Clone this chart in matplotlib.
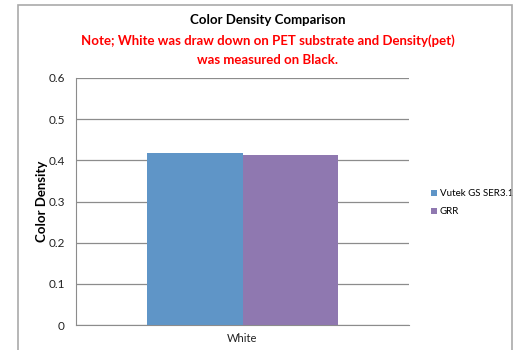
import matplotlib
matplotlib.use("Agg")
import matplotlib.pyplot as plt
from matplotlib.patches import Rectangle

# data
categories = ["White"]
series_names = ["Vutek GS SER3.1", "GRR"]
series_values = [[0.417], [0.414]]
colors = ["#5F95C7", "#8F78B0"]

plt.rcParams['font.family'] = ['Lato', 'DejaVu Sans']

fig = plt.figure(figsize=(5.2, 3.5), dpi=100)

# outer chart border
fig.patches.append(Rectangle((18 / 520, -0.1), 494 / 520, 1.1 - 5 / 350,
                             transform=fig.transFigure, fill=False,
                             edgecolor="#AAAAAA", linewidth=1.2))

ax = fig.add_axes([76 / 520, 25 / 350, 333 / 520, 247 / 350])

w = 0.287
offsets = [-w / 2, w / 2]
for i in range(len(series_names)):
    ax.bar([0 + offsets[i]], series_values[i], width=w, color=colors[i],
           label=series_names[i], zorder=3)

ax.set_xlim(-0.5, 0.5)
ax.set_ylim(0, 0.6)
ax.set_yticks([0, 0.1, 0.2, 0.3, 0.4, 0.5, 0.6])
ax.set_yticklabels(["0", "0.1", "0.2", "0.3", "0.4", "0.5", "0.6"])
ax.set_xticks([0])
ax.set_xticklabels(categories)
ax.tick_params(axis="both", length=0, colors="#222222")
ax.tick_params(axis="y", pad=8, labelsize=8.5)
ax.tick_params(axis="x", pad=6, labelsize=8)
ax.yaxis.grid(True, color="#8C8C8C", linewidth=0.9, zorder=0)
for s in ["top", "right"]:
    ax.spines[s].set_visible(False)
ax.spines["left"].set_color("#8C8C8C")
ax.spines["bottom"].set_color("#8C8C8C")
ax.set_ylabel("Color Density", fontsize=9.5, fontweight="bold", labelpad=0)

fig.text(0.515, 1 - 20 / 350, "Color Density Comparison", ha="center",
         va="center", fontsize=9.5, fontweight="bold", color="black")
fig.text(0.515, 1 - 41 / 350,
         "Note; White was draw down on PET substrate and Density(pet)",
         ha="center", va="center", fontsize=9.5, fontweight="bold", color="#FF0000")
fig.text(0.515, 1 - 60 / 350, "was measured on Black.", ha="center",
         va="center", fontsize=9.5, fontweight="bold", color="#FF0000")

ax.legend(loc="center left", bbox_to_anchor=(1.04, 0.495), frameon=False,
          fontsize=7, handlelength=0.6, handleheight=0.6, handletextpad=0.3,
          labelspacing=0.95)

fig.savefig("out.png", dpi=100)
